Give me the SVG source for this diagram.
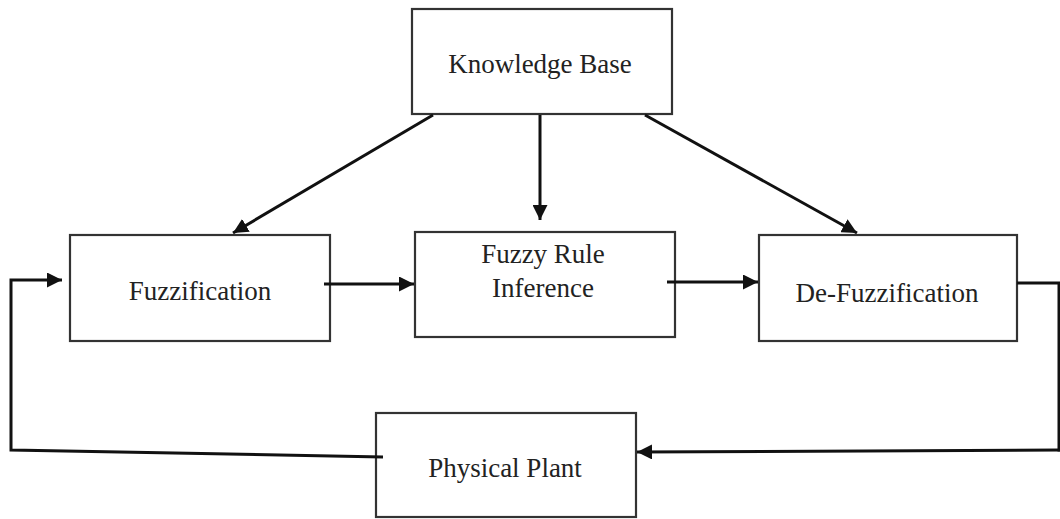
<svg xmlns="http://www.w3.org/2000/svg" width="1060" height="519" viewBox="0 0 1060 519">
<style>
.box{fill:#fff;stroke:#333;stroke-width:2.2}
.lbl{font-family:"Liberation Serif","Times New Roman",serif;font-size:27px;fill:#222;text-anchor:middle}
.ln{fill:none;stroke:#111;stroke-width:3}
</style>
<defs>
<marker id="ah" viewBox="0 0 10 10" refX="10" refY="5" markerWidth="5" markerHeight="5" orient="auto" markerUnits="strokeWidth">
<path d="M0,0 L10,5 L0,10 Z" fill="#111"/>
</marker>
</defs>
<rect width="1060" height="519" fill="#fff"/>
<g id="knowledge-base">
<rect class="box" x="412" y="9" width="260" height="105"/>
<text class="lbl" x="540" y="73">Knowledge Base</text>
</g>
<g id="fuzzification">
<rect class="box" x="70" y="235" width="260" height="106"/>
<text class="lbl" x="200" y="300">Fuzzification</text>
</g>
<g id="fuzzy-rule-inference">
<rect class="box" x="415" y="232" width="260" height="105"/>
<text class="lbl" x="543" y="263">Fuzzy Rule</text>
<text class="lbl" x="543" y="297">Inference</text>
</g>
<g id="de-fuzzification">
<rect class="box" x="759" y="235" width="258" height="106"/>
<text class="lbl" x="887" y="302">De-Fuzzification</text>
</g>
<g id="physical-plant">
<rect class="box" x="376" y="413" width="260" height="104"/>
<text class="lbl" x="505" y="477">Physical Plant</text>
</g>
<g id="connectors">
<line class="ln" x1="433" y1="115" x2="233" y2="233" marker-end="url(#ah)"/>
<line class="ln" x1="540" y1="115" x2="540" y2="220" marker-end="url(#ah)"/>
<line class="ln" x1="645" y1="115" x2="857" y2="233" marker-end="url(#ah)"/>
<line class="ln" x1="324" y1="284" x2="414" y2="284" marker-end="url(#ah)"/>
<line class="ln" x1="667" y1="282" x2="758" y2="282" marker-end="url(#ah)"/>
<polyline class="ln" points="1017,283 1059,283 1059,450 1060,450"/>
<line class="ln" x1="1060" y1="450" x2="637" y2="452" marker-end="url(#ah)"/>
<polyline class="ln" points="383,457 11,450 11,280 62,280" marker-end="url(#ah)"/>
</g>
</svg>
